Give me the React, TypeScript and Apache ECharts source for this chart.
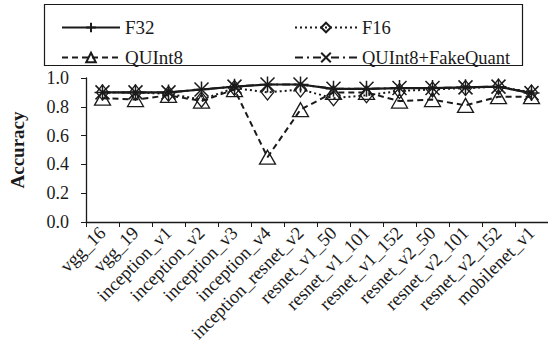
import React, { useEffect, useRef } from "react";
import * as echarts from "echarts";

const categories = [
  "vgg_16", "vgg_19", "inception_v1", "inception_v2", "inception_v3", "inception_v4",
  "inception_resnet_v2", "resnet_v1_50", "resnet_v1_101", "resnet_v1_152",
  "resnet_v2_50", "resnet_v2_101", "resnet_v2_152", "mobilenet_v1",
];
const f32 = [0.9, 0.9, 0.9, 0.92, 0.94, 0.955, 0.955, 0.925, 0.925, 0.93, 0.93, 0.935, 0.94, 0.895];
const f16 = [0.9, 0.9, 0.89, 0.85, 0.93, 0.9, 0.92, 0.86, 0.88, 0.91, 0.92, 0.93, 0.94, 0.9];
const quint8 = [0.86, 0.85, 0.88, 0.84, 0.92, 0.45, 0.78, 0.9, 0.9, 0.84, 0.85, 0.81, 0.87, 0.87];
const fakeQuant = [0.9, 0.9, 0.9, 0.92, 0.94, 0.955, 0.955, 0.925, 0.925, 0.93, 0.93, 0.935, 0.94, 0.895];

const FONT = "'Liberation Serif', 'Times New Roman', Times, serif";
const INK = "#1a1a1a";

export default function App() {
  const ref = useRef<HTMLDivElement>(null);
  useEffect(() => {
    if (!ref.current) return;
    const chart = echarts.init(ref.current, undefined, { renderer: "svg" });
    const sym = { color: "rgba(0,0,0,0)", borderColor: INK, borderWidth: 1.3 };
    chart.setOption({
      animation: false,
      textStyle: { fontFamily: FONT, color: INK },
      graphic: [
        {
          type: "rect",
          shape: { x: 44.5, y: 4.5, width: 478, height: 61 },
          style: { fill: "none", stroke: INK, lineWidth: 1.2 },
        },
      ],
      legend: [
        {
          data: ["F32", "QUInt8"],
          orient: "vertical",
          left: 56,
          top: 13,
          itemWidth: 58,
          itemHeight: 12,
          itemGap: 11,
          textStyle: { fontFamily: FONT, fontSize: 19, color: INK },
        },
        {
          data: ["F16", "QUInt8+FakeQuant"],
          orient: "vertical",
          left: 289,
          top: 13,
          itemWidth: 62,
          itemHeight: 12,
          itemGap: 11,
          textStyle: { fontFamily: FONT, fontSize: 18.5, color: INK },
        },
      ],
      grid: { left: 76, top: 78, width: 472, height: 144, containLabel: false },
      xAxis: {
        type: "category",
        data: categories,
        boundaryGap: true,
        axisLine: { lineStyle: { color: INK, width: 1.3 } },
        axisTick: { show: true, length: 5, alignWithLabel: false, lineStyle: { color: INK } },
        axisLabel: {
          rotate: 45,
          interval: 0,
          fontFamily: FONT,
          fontSize: 18.5,
          color: INK,
          margin: 8,
        },
      },
      yAxis: {
        type: "value",
        min: 0,
        max: 1,
        interval: 0.2,
        name: "Accuracy",
        nameLocation: "middle",
        nameGap: 59,
        nameRotate: 90,
        nameTextStyle: { fontFamily: FONT, fontSize: 19, fontWeight: "bold", color: INK },
        axisLine: { show: true, lineStyle: { color: INK, width: 1.3 } },
        axisTick: { show: true, length: 5, lineStyle: { color: INK } },
        splitLine: { show: false },
        axisLabel: {
          fontFamily: FONT,
          fontSize: 18,
          color: INK,
          margin: 17,
          formatter: (v: number) => v.toFixed(1),
        },
      },
      series: [
        {
          name: "QUInt8",
          type: "line",
          data: quint8,
          symbol: "triangle",
          symbolSize: [16, 14],
          lineStyle: { color: INK, width: 2, type: [6, 4] },
          itemStyle: sym,
        },
        {
          name: "F16",
          type: "line",
          data: f16,
          symbol: "diamond",
          symbolSize: [12, 15],
          lineStyle: { color: INK, width: 2, type: [2, 3] },
          itemStyle: sym,
        },
        {
          name: "QUInt8+FakeQuant",
          type: "line",
          data: fakeQuant,
          symbol: "path://M0,0L10,10M10,0L0,10",
          symbolSize: 14,
          lineStyle: { color: INK, width: 2, type: [8, 4, 2, 4] },
          itemStyle: { ...sym, borderWidth: 1.5 },
        },
        {
          name: "F32",
          type: "line",
          data: f32,
          symbol: "path://M5,0L5,10M0,5L10,5",
          symbolSize: 16,
          lineStyle: { color: INK, width: 2.2 },
          itemStyle: { ...sym, borderWidth: 1.5 },
        },
      ],
    });
    return () => chart.dispose();
  }, []);
  return <div ref={ref} style={{ width: 548, height: 354, position: "absolute", left: 0, top: 0 }} />;
}
